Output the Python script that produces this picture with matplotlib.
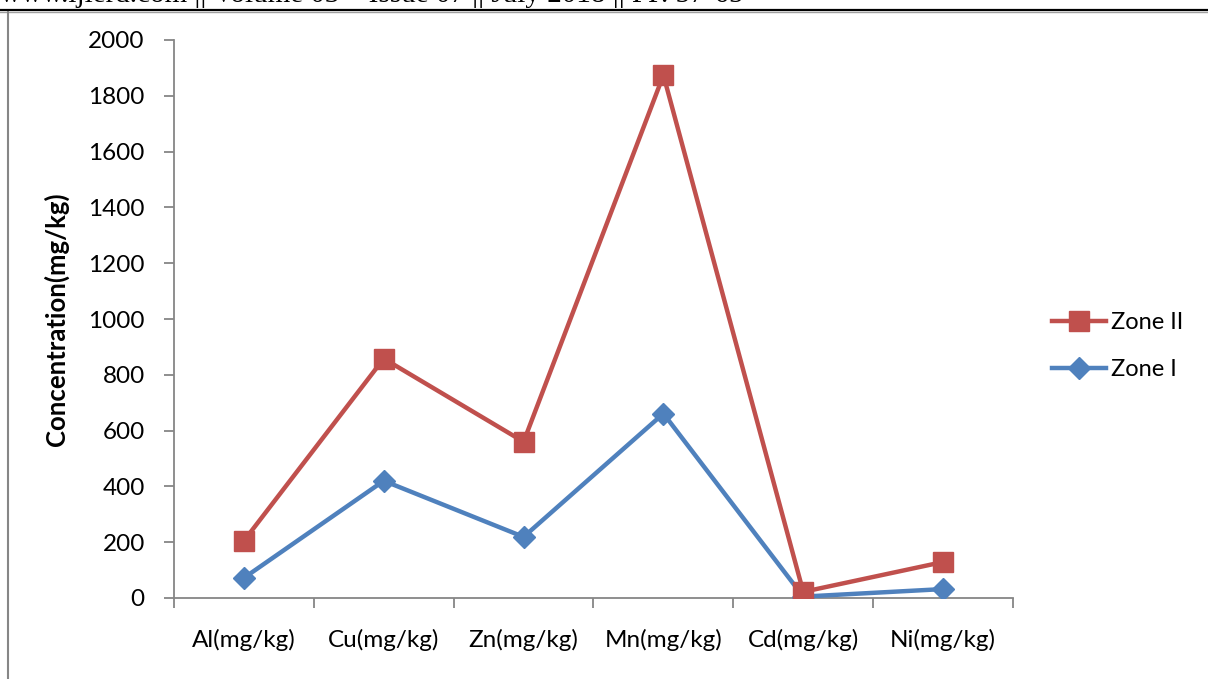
import matplotlib
matplotlib.use("Agg")
import matplotlib.pyplot as plt
from matplotlib.lines import Line2D
import numpy as np

categories = ["Al(mg/kg)", "Cu(mg/kg)", "Zn(mg/kg)", "Mn(mg/kg)", "Cd(mg/kg)", "Ni(mg/kg)"]
zone_2 = [205, 858, 560, 1874, 22, 129]
zone_1 = [72, 420, 219, 661, 5, 32]

red = "#C0504D"
blue = "#4F81BD"
grey = "#868686"

plt.rcParams['font.family'] = ['Lato', 'DejaVu Sans']

W, H = 1208, 679
fig = plt.figure(figsize=(W / 100, H / 100), dpi=100)
ax = fig.add_axes([174 / W, 1 - 598 / H, (1013 - 174) / W, (598 - 40) / H])

x = np.arange(len(categories))
ax.plot(x, zone_1, color=blue, lw=3.2, marker="D", ms=11, solid_joinstyle="round", zorder=3)
ax.plot(x, zone_2, color=red, lw=3.2, marker="s", ms=14, solid_joinstyle="round", zorder=3)

ax.set_xlim(-0.5, len(categories) - 0.5)
ax.set_ylim(0, 2000)
ax.set_yticks(range(0, 2001, 200))
ax.set_xticks(np.arange(-0.5, len(categories)), minor=False)
ax.set_xticklabels([])
ax.set_xticks(x, minor=True)
ax.set_xticklabels(categories, minor=True)
ax.tick_params(axis="x", which="minor", length=0, pad=22, labelsize=17.5)
ax.tick_params(axis="x", which="major", length=7, color=grey, width=1.3, direction="out")
ax.tick_params(axis="y", length=7, color=grey, width=1.3, direction="out", pad=14, labelsize=17.5)

for s in ["top", "right"]:
    ax.spines[s].set_visible(False)
for s in ["left", "bottom"]:
    ax.spines[s].set_color(grey)
    ax.spines[s].set_linewidth(1.3)

ax.set_ylabel("Concentration(mg/kg)", fontsize=18.5, fontweight="bold", labelpad=14)

handles = [Line2D([], [], color=red, lw=3.2, marker="s", ms=14),
           Line2D([], [], color=blue, lw=3.2, marker="D", ms=11)]
fig.legend(handles, ["Zone II", "Zone I"], loc="center left",
           bbox_to_anchor=(1052 / W, 1 - 346 / H), frameon=False, borderpad=0,
           borderaxespad=0, fontsize=17, handlelength=2.3, handletextpad=0.2,
           labelspacing=1.1)

# page frame of the source document
fig.add_artist(Line2D([0, 1], [1 - 10 / H, 1 - 10 / H], color="black", lw=1.6, transform=fig.transFigure))
fig.add_artist(Line2D([0, 1], [1 - 12 / H, 1 - 12 / H], color="#a0a0a0", lw=1.0, transform=fig.transFigure))
fig.add_artist(Line2D([8 / W, 8 / W], [0, 1 - 12 / H], color=grey, lw=1.5, transform=fig.transFigure))
fig.text(0, 1 + 5 / H, "www.ijlerd.com || Volume 03 \u2013 Issue 07 || July 2018 || PP. 57-65",
         family=["Liberation Serif"], fontsize=21, va="center", ha="left")

fig.savefig("out.png", dpi=100)
